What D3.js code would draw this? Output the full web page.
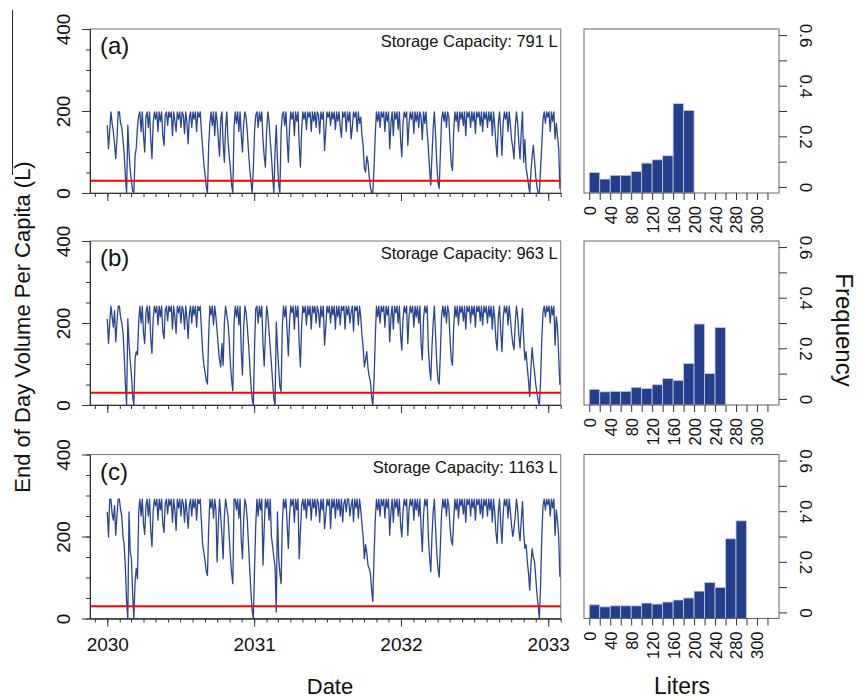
<!DOCTYPE html>
<html>
<head>
<meta charset="utf-8">
<script src="https://cdn.jsdelivr.net/npm/d3@7"></script>
<style>
  body { margin: 0; background: #fff; }
  svg { display: block; font-family: "Liberation Sans", Arial, sans-serif; }
</style>
</head>
<body>
<script>
// end of day volume per capita (L), one value every 3 days from 1 Jan 2030
const startDate = new Date(2030, 0, 1);
const stepDays = 3;

const volA = [
  165,108,150,198,170,150,120,84,130,198,
  198,170,160,130,95,40,0,165,100,55,
  30,5,0,90,110,160,190,198,150,198,
  140,100,185,198,160,198,130,84,170,198,
  180,198,150,198,175,198,140,116,190,198,
  165,198,185,198,140,198,175,150,198,180,
  198,160,198,190,145,198,170,120,185,198,
  160,198,180,198,150,198,185,198,150,110,
  70,45,15,0,116,170,198,165,198,140,
  198,175,130,90,180,198,120,75,160,198,
  130,90,60,20,0,160,198,170,198,150,
  198,140,100,170,198,185,150,100,60,30,
  0,60,150,190,198,160,198,175,198,130,
  90,63,150,198,175,130,90,40,0,100,
  165,80,20,0,150,190,198,165,198,130,
  75,160,198,180,198,140,198,175,198,120,
  63,150,198,180,198,155,198,185,198,150,
  198,175,198,160,198,190,145,198,180,198,
  104,150,198,185,198,165,198,180,198,155,
  198,175,198,160,136,198,185,198,150,198,
  175,198,132,160,198,185,198,150,198,170,
  185,140,116,60,51,90,75,40,15,0,
  0,60,140,198,175,198,160,198,185,198,
  150,198,175,198,108,170,198,140,198,180,
  198,155,198,130,88,170,198,185,198,116,
  170,198,180,198,145,198,175,198,160,198,
  185,130,198,170,198,150,110,60,19,90,
  157,198,140,70,25,11,100,180,198,175,
  198,160,198,185,120,70,55,150,198,175,
  198,150,198,180,198,165,198,140,198,185,
  198,160,198,175,198,145,198,185,198,165,
  198,150,198,180,198,160,198,175,198,140,
  198,165,120,88,170,198,150,92,170,198,
  180,198,150,198,165,130,110,83,160,198,
  170,120,83,150,198,75,130,60,43,20,
  0,50,90,116,80,40,15,0,0,60,
  116,180,198,170,198,185,198,150,198,175,
  198,132,170,140,108,10
];

const volB = [
  210,150,200,241,215,190,230,154,200,241,
  241,215,200,178,120,50,0,210,150,106,
  73,20,0,114,130,122,202,241,200,241,
  175,150,225,241,200,241,160,126,210,241,
  225,241,195,241,215,241,180,162,230,241,
  205,241,228,241,185,241,215,175,241,225,
  241,200,241,230,185,241,210,162,225,241,
  200,241,220,241,190,241,230,241,185,130,
  97,80,60,51,170,241,220,241,195,241,
  215,180,140,110,93,150,97,200,241,220,
  200,160,100,60,35,200,241,215,241,195,
  241,130,73,190,241,225,190,150,100,49,
  15,0,140,235,241,200,241,215,241,150,
  95,170,241,220,180,140,100,55,15,0,
  202,140,90,45,33,190,241,215,241,180,
  120,205,241,225,241,185,241,215,241,150,
  93,190,241,225,241,195,241,220,241,185,
  241,225,241,200,241,228,190,241,215,241,
  146,190,241,225,241,200,241,220,241,185,
  241,215,241,195,241,230,241,185,241,220,
  241,200,225,241,180,241,230,241,195,241,
  215,170,140,93,110,130,90,70,57,20,
  0,60,160,241,215,241,200,241,228,241,
  190,241,220,241,154,215,241,185,241,225,
  241,200,241,170,134,210,241,225,241,150,
  215,241,225,241,190,241,215,241,200,241,
  150,110,210,241,225,241,140,90,61,140,
  200,241,170,100,60,51,130,220,241,215,
  241,200,241,225,160,110,97,190,241,215,
  241,195,241,225,241,205,241,185,241,228,
  241,200,241,220,241,190,241,228,241,205,
  241,195,241,225,241,200,241,215,241,185,
  241,210,160,134,215,241,180,130,210,241,
  225,241,195,241,210,175,150,135,200,241,
  215,170,140,190,235,160,110,130,90,60,
  21,90,140,106,80,50,30,10,0,60,
  160,225,241,215,241,228,241,200,241,220,
  241,146,215,190,120,49
];

const volC = [
  260,199,291,291,255,240,275,203,250,291,
  291,265,250,200,179,122,40,0,260,162,
  146,60,0,90,122,97,260,291,250,291,
  230,205,275,291,250,291,215,175,260,291,
  275,291,240,291,265,291,230,210,280,291,
  255,291,275,291,235,291,265,215,291,270,
  291,250,291,280,235,291,260,220,275,291,
  250,291,270,291,240,291,280,291,235,180,
  160,140,115,105,220,291,270,291,245,291,
  265,138,230,291,250,200,146,250,291,270,
  250,200,150,110,85,291,291,265,291,245,
  291,190,146,240,291,275,240,180,120,65,
  20,0,120,230,291,250,291,265,291,130,
  220,291,270,291,240,291,200,175,150,126,
  16,260,150,110,85,230,291,270,291,230,
  171,250,291,275,291,235,291,265,291,146,
  210,275,291,265,291,245,291,275,291,240,
  291,270,291,250,291,280,235,291,265,291,
  219,250,291,275,291,219,291,270,291,245,
  291,265,291,250,291,236,280,291,260,291,
  291,250,275,291,236,291,270,291,245,291,
  265,230,200,146,180,160,130,122,110,70,
  41,150,240,291,265,291,250,291,275,291,
  245,291,270,291,203,260,291,235,291,270,
  291,250,291,230,199,260,291,275,291,203,
  265,291,275,291,240,291,265,291,250,291,
  220,163,250,291,275,291,200,150,114,200,
  260,291,220,160,120,101,180,260,291,270,
  291,250,291,275,220,190,179,240,291,265,
  291,245,291,275,291,255,291,235,291,278,
  291,250,291,270,291,240,291,278,291,255,
  291,245,291,275,291,250,291,265,291,235,
  291,260,210,183,260,291,230,183,255,291,
  275,291,245,291,260,225,200,220,250,291,
  265,215,190,240,285,210,171,180,140,110,
  69,130,170,150,138,100,60,30,0,80,
  200,275,291,265,291,278,291,250,291,270,
  291,203,265,240,200,101
];

// histogram frequencies, 20 L bins starting at 0
const binWidth = 20;
const freqA = [0.057,0.031,0.046,0.046,0.061,0.094,0.107,0.123,0.329,0.302];
const freqB = [0.038,0.028,0.030,0.030,0.046,0.041,0.056,0.081,0.073,0.140,0.296,0.100,0.282];
const freqC = [0.030,0.022,0.026,0.026,0.026,0.037,0.033,0.041,0.049,0.057,0.084,0.118,0.099,0.291,0.362];

const capacities = ["791", "963", "1163"];
const panelTags = ["(a)", "(b)", "(c)"];
const threshold = 30;

const yMinorTicks = [0,50,100,150,200,250,300,350,400];
const yLabelTicks = [0,200,400];
const freqTicks = [0,0.1,0.2,0.3,0.4,0.5,0.6];
const freqTickLabels = ["0","","0.2","","0.4","","0.6"];
const literTicks = [0,20,40,60,80,100,120,140,160,180,200,220,240,260,280,300,320,340];
const literTickLabels = ["0","","40","","80","","120","","160","","200","","240","","280","","300",""];

const lineColor = "#2b4595";
const barColor = "#243f8c";

const W = 861, H = 699;
const tsX0 = 90, tsX1 = 560.7, hX0 = 584, hX1 = 779, panelH = 164;
const panelTops = [29, 241, 454.5];

const svg = d3.select("body").append("svg")
    .attr("width", W)
    .attr("height", H);

const x = d3.scaleTime()
    .domain([new Date(2029, 10, 19), new Date(2033, 1, 1)])
    .range([tsX0, tsX1]);

const hx = d3.scaleLinear()
    .domain([-10, 362])
    .range([hX0, hX1]);

function styleAxis(sel, size) {
    sel.attr("font-size", size)
        .attr("font-family", null);
    sel.selectAll("path, line").attr("stroke", "#333");
    sel.selectAll("text").attr("fill", "#111");
}

[volA, volB, volC].forEach(function (vals, p) {
    const top = panelTops[p], bot = top + panelH;
    const y = d3.scaleLinear().domain([0, 400]).range([bot, top]);
    const g = svg.append("g");

    g.append("rect")
        .attr("x", tsX0).attr("y", top)
        .attr("width", tsX1 - tsX0).attr("height", panelH)
        .attr("fill", "none").attr("stroke", "#777");

    const pts = vals.map(function (v, i) {
        return { date: d3.timeDay.offset(startDate, i * stepDays), v: v };
    });
    const line = d3.line()
        .x(function (d) { return x(d.date); })
        .y(function (d) { return y(d.v); });

    g.append("path")
        .datum(pts)
        .attr("d", line)
        .attr("fill", "none")
        .attr("stroke", lineColor)
        .attr("stroke-width", 1.3)
        .attr("stroke-linejoin", "round");

    g.append("line")
        .attr("x1", tsX0).attr("x2", tsX1)
        .attr("y1", y(threshold)).attr("y2", y(threshold))
        .attr("stroke", "#ff0000").attr("stroke-width", 2);

    // y axis
    g.append("g").attr("transform", `translate(${tsX0},0)`)
        .call(d3.axisLeft(y).tickValues(yMinorTicks).tickSize(4).tickSizeOuter(0).tickFormat(""))
        .call(styleAxis, 19);
    const ya = g.append("g").attr("transform", `translate(${tsX0},0)`)
        .call(d3.axisLeft(y).tickValues(yLabelTicks).tickSize(8).tickSizeOuter(0))
        .call(styleAxis, 19);
    ya.selectAll("text")
        .attr("transform", "rotate(-90)")
        .attr("x", 0).attr("y", -20).attr("dy", 0)
        .attr("text-anchor", "middle");

    // x axis
    g.append("g").attr("transform", `translate(0,${bot})`)
        .call(d3.axisBottom(x).ticks(d3.timeMonth.every(1)).tickSize(4).tickSizeOuter(0).tickFormat(""))
        .call(styleAxis, 19);
    const xa = g.append("g").attr("transform", `translate(0,${bot})`)
        .call(d3.axisBottom(x).ticks(d3.timeYear.every(1)).tickSize(8).tickSizeOuter(0)
            .tickFormat(p === 2 ? d3.timeFormat("%Y") : ""))
        .call(styleAxis, 19);
    xa.selectAll("text").attr("y", 19);

    g.append("text")
        .attr("x", 100).attr("y", top + 25)
        .attr("font-size", 24).attr("fill", "#111")
        .text(panelTags[p]);

    g.append("text")
        .attr("x", tsX1 - 3).attr("y", top + 18)
        .attr("text-anchor", "end")
        .attr("font-size", 16.5).attr("fill", "#111")
        .text("Storage Capacity: " + capacities[p] + " L");
});

[freqA, freqB, freqC].forEach(function (freq, p) {
    const top = panelTops[p], bot = top + panelH;
    const hy = d3.scaleLinear().domain([-0.024, 0.624]).range([bot, top]);
    const g = svg.append("g");

    g.selectAll("rect.bar")
        .data(freq)
        .enter().append("rect")
        .attr("class", "bar")
        .attr("x", function (d, i) { return hx(i * binWidth); })
        .attr("width", hx(binWidth) - hx(0))
        .attr("y", function (d) { return hy(d); })
        .attr("height", function (d) { return hy(-0.024) - hy(d); })
        .attr("fill", barColor)
        .attr("stroke", "#c3c9df")
        .attr("stroke-width", 0.8);

    g.append("rect")
        .attr("x", hX0).attr("y", top)
        .attr("width", hX1 - hX0).attr("height", panelH)
        .attr("fill", "none").attr("stroke", "#666");

    const xa = g.append("g").attr("transform", `translate(0,${bot})`)
        .call(d3.axisBottom(hx).tickValues(literTicks).tickSize(7)
            .tickFormat(function (d, i) { return literTickLabels[i]; }))
        .call(styleAxis, 16.5);
    xa.select(".domain").remove();
    xa.selectAll("text")
        .attr("transform", "rotate(-90)")
        .attr("x", -13).attr("y", 0).attr("dy", "0.36em")
        .attr("text-anchor", "end");

    const ya = g.append("g").attr("transform", `translate(${hX1},0)`)
        .call(d3.axisRight(hy).tickValues(freqTicks).tickSize(8)
            .tickFormat(function (d, i) { return freqTickLabels[i]; }))
        .call(styleAxis, 17);
    ya.select(".domain").remove();
    ya.selectAll("text")
        .attr("transform", "rotate(90)")
        .attr("x", 0).attr("y", -21).attr("dy", 0)
        .attr("text-anchor", "middle");
});

// titles
svg.append("text")
    .attr("transform", "translate(30,327) rotate(-90)")
    .attr("text-anchor", "middle")
    .attr("font-size", 22).attr("fill", "#111")
    .text("End of Day Volume Per Capita (L)");

svg.append("text")
    .attr("x", 330).attr("y", 694)
    .attr("text-anchor", "middle")
    .attr("font-size", 22).attr("fill", "#111")
    .text("Date");

svg.append("text")
    .attr("x", 682).attr("y", 694)
    .attr("text-anchor", "middle")
    .attr("font-size", 23).attr("fill", "#111")
    .text("Liters");

svg.append("text")
    .attr("transform", "translate(836,330) rotate(90)")
    .attr("text-anchor", "middle")
    .attr("font-size", 24).attr("fill", "#111")
    .text("Frequency");

// stray frame edge at far left of the figure
svg.append("line")
    .attr("x1", 12.5).attr("x2", 12.5)
    .attr("y1", 10).attr("y2", 175)
    .attr("stroke", "#222").attr("stroke-width", 1);
</script>
</body>
</html>
